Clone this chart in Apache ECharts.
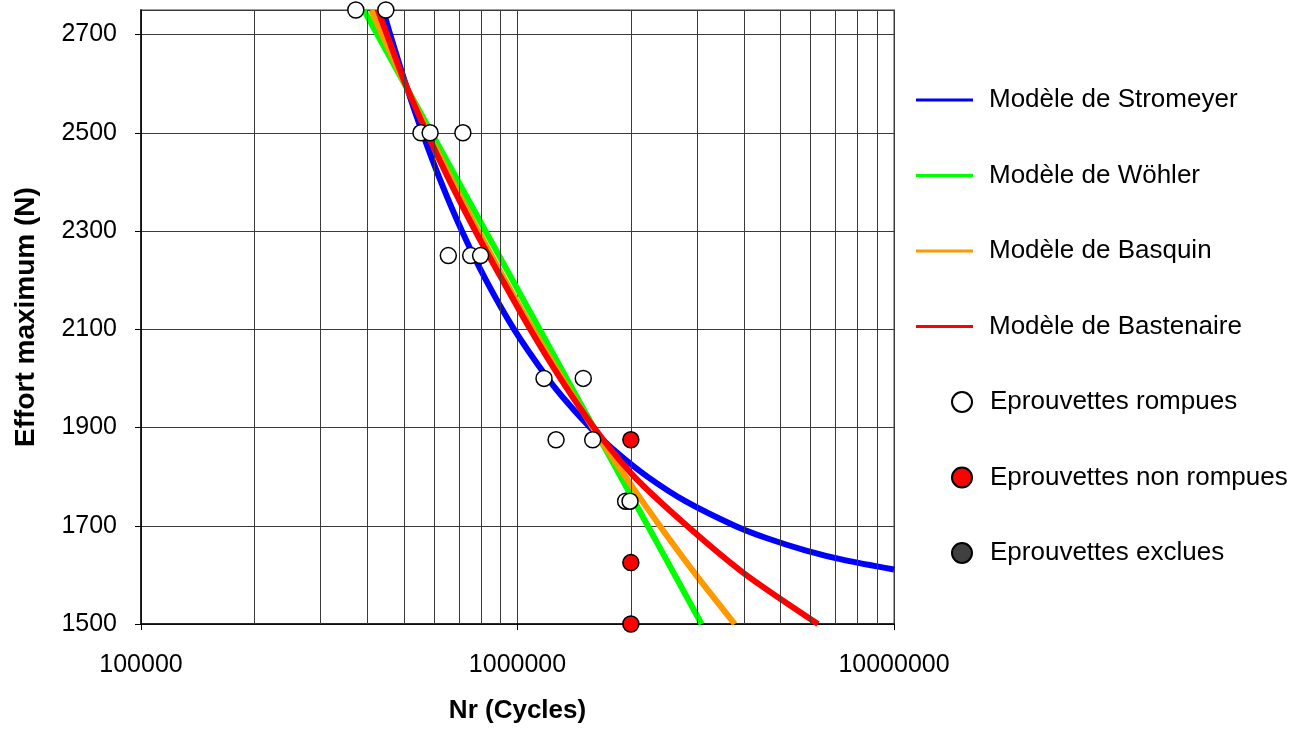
<!DOCTYPE html>
<html>
<head>
<meta charset="utf-8">
<script src="https://cdn.jsdelivr.net/npm/echarts@6/dist/echarts.min.js"></script>
<style>
html,body{margin:0;padding:0;background:#fff;}
#chart{width:1310px;height:729px;}
</style>
</head>
<body>
<div id="chart"></div>
<script>
// ---- data ----
const seriesNames = ['Modèle de Stromeyer','Modèle de Wöhler','Modèle de Basquin','Modèle de Bastenaire','Eprouvettes rompues','Eprouvettes non rompues','Eprouvettes exclues'];

const stromeyerS = [2750,2700,2600,2500,2400,2300,2200,2100,2000,1950,1900,1850,1800,1750,1700,1675,1650,1630,1611];
const stromeyerN = [439500,459200,504300,558900,626200,711800,824800,979300,1204000,1360000,1561000,1830000,2212000,2792000,3776000,4580000,5811000,7393000,10000000];

const wohlerS = [2750,2500,2250,2000,1750,1500];
const wohlerN = [390800,590700,893300,1350000,2042000,3083000];

const basquinS = [2750,2700,2600,2500,2400,2300,2200,2100,2000,1900,1800,1700,1600,1500];
const basquinN = [409300,437100,502200,579400,673000,787000,926800,1099000,1315000,1585000,1934000,2386000,2979000,3776000];

const bastenaireS = [2750,2700,2600,2500,2400,2300,2200,2100,2000,1900,1800,1700,1600,1500];
const bastenaireN = [425600,449800,503500,574100,662200,772700,912000,1081000,1300000,1596000,2042000,2818000,4046000,6281000];

const rompuesN = [372000,447000,554000,586000,716000,655000,751000,798000,1176000,1495000,1266000,1584000,1937000,1990000];
const rompuesS = [2750,2750,2500,2500,2500,2250,2250,2250,2000,2000,1875,1875,1750,1750];

const nonRompuesN = [2000000,2000000,2000000];
const nonRompuesS = [1875,1625,1500];

const exclusN = [];
const exclusS = [];

const xMinorGrid = [200000,300000,400000,500000,600000,700000,800000,900000,2000000,3000000,4000000,5000000,6000000,7000000,8000000,9000000];
const xTicks = [100000,1000000,10000000];
const yTicks = [1500,1700,1900,2100,2300,2500,2700];

// ---- chart ----
const pairs = (xs, ys) => xs.map((x, i) => [x, ys[i]]);
const FONT = "'Liberation Sans', Arial, sans-serif";
const gridColor = '#3a3a3a';
const lineIcon = 'path://M0,0L57,0L57,3L0,3Z';

const chart = echarts.init(document.getElementById('chart'));

function curve(name, xs, ys, color) {
  return {
    name, type: 'line', data: pairs(xs, ys),
    showSymbol: false, symbol: 'none',
    smooth: 0.25,
    lineStyle: { color, width: 6 }, itemStyle: { color },
    clip: true, z: 3, silent: true
  };
}
function dots(name, xs, ys, fill) {
  return {
    name, type: 'scatter', data: pairs(xs, ys),
    symbol: 'circle', symbolSize: 16,
    itemStyle: { color: fill, borderColor: '#000', borderWidth: 1.5, opacity: 1 },
    z: 5, silent: true
  };
}

chart.setOption({
  backgroundColor: '#fff',
  animation: false,
  grid: { left: 141, top: 10, width: 753, height: 616, show: true, borderColor: '#a0a0a0', borderWidth: 2, backgroundColor: 'transparent' },
  xAxis: {
    type: 'log', logBase: 10, min: xTicks[0], max: xTicks[xTicks.length - 1],
    name: 'Nr (Cycles)', nameLocation: 'middle', nameGap: 74,
    nameTextStyle: { fontFamily: FONT, fontSize: 26, fontWeight: 'bold', color: '#000' },
    axisLine: { show: true, lineStyle: { color: '#000', width: 1.5 } },
    axisTick: { show: true, inside: false, length: 6, lineStyle: { color: '#000' } },
    axisLabel: { fontFamily: FONT, fontSize: 25, color: '#000', margin: 29, formatter: v => String(Math.round(v)) },
    splitLine: { show: true, lineStyle: { color: gridColor, width: 1 } },
    minorTick: { show: false }, minorSplitLine: { show: false }
  },
  yAxis: {
    type: 'value', min: yTicks[0], max: 2750, interval: 200,
    name: 'Effort maximum (N)', nameLocation: 'middle', nameGap: 101, nameRotate: 90,
    nameTextStyle: { fontFamily: FONT, fontSize: 28, fontWeight: 'bold', color: '#000' },
    axisLine: { show: true, lineStyle: { color: '#000', width: 1.5 } },
    axisTick: { show: true, inside: false, length: 6, lineStyle: { color: '#000' } },
    axisLabel: { fontFamily: FONT, fontSize: 25, color: '#000', margin: 24, showMaxLabel: false, formatter: v => String(Math.round(v)) },
    splitLine: { show: true, lineStyle: { color: gridColor, width: 1 } }
  },
  legend: [
    {
      data: seriesNames.slice(0, 4).map(n => ({ name: n, icon: lineIcon })),
      orient: 'vertical', left: 916, top: 87, padding: 0,
      itemWidth: 57, itemHeight: 26, itemGap: 49.5, selectedMode: false,
      symbolKeepAspect: true,
      textStyle: { fontFamily: FONT, fontSize: 26, lineHeight: 26, color: '#000', padding: [0, 0, 0, 11] }
    },
    {
      data: seriesNames.slice(4), orient: 'vertical', left: 951, top: 389, padding: 0,
      itemWidth: 20, itemHeight: 26, itemGap: 49.5, selectedMode: false,
      textStyle: { fontFamily: FONT, fontSize: 26, lineHeight: 26, color: '#000', padding: [0, 0, 0, 13] }
    }
  ],
  series: [
    {
      name: '_grid', type: 'line', data: [], z: 1, silent: true,
      markLine: {
        silent: true, symbol: ['none', 'none'], animation: false,
        label: { show: false },
        lineStyle: { color: gridColor, width: 1, type: 'solid' },
        data: xMinorGrid.map(v => ({ xAxis: v }))
      }
    },
    curve(seriesNames[0], stromeyerN, stromeyerS, '#0000ff'),
    curve(seriesNames[1], wohlerN, wohlerS, '#00ff00'),
    curve(seriesNames[2], basquinN, basquinS, '#ff9900'),
    curve(seriesNames[3], bastenaireN, bastenaireS, '#ff0000'),
    dots(seriesNames[4], rompuesN, rompuesS, '#ffffff'),
    dots(seriesNames[5], nonRompuesN, nonRompuesS, '#ff0000'),
    dots(seriesNames[6], exclusN, exclusS, '#404040')
  ]
});
</script>
</body>
</html>
